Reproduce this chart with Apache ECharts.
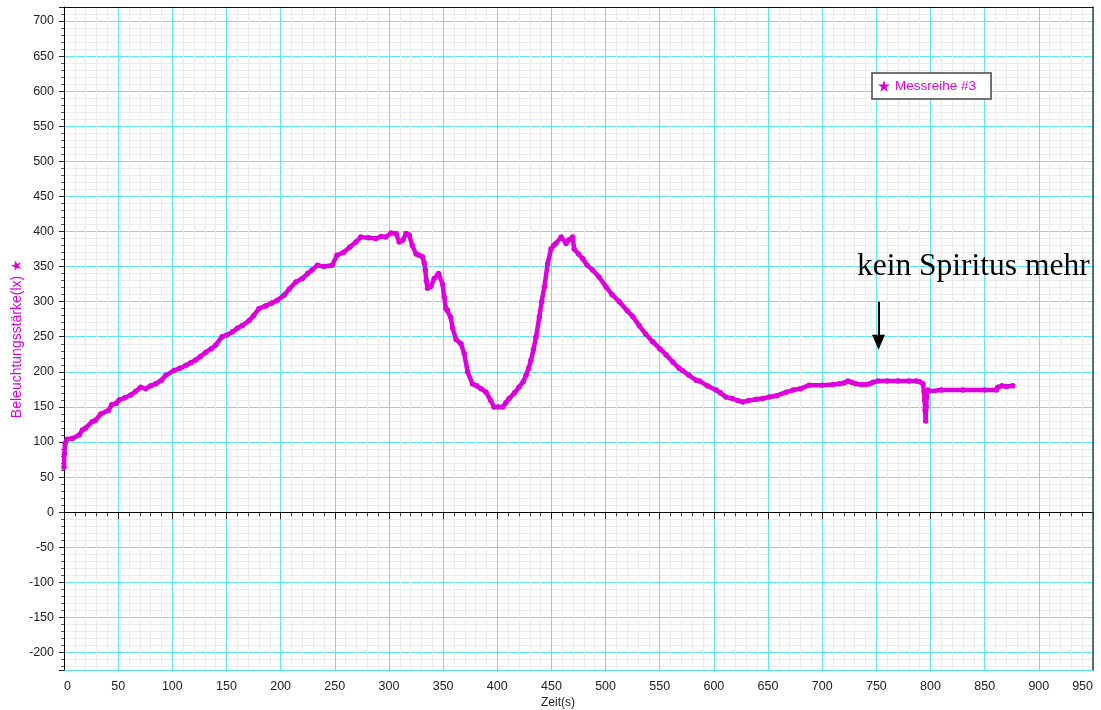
<!DOCTYPE html>
<html><head><meta charset="utf-8">
<script src="https://cdn.jsdelivr.net/npm/echarts@6/dist/echarts.min.js"></script>
<style>html,body{margin:0;padding:0;background:#fff}#c{width:1101px;height:710px}</style>
</head><body><div id="c"></div>
<script>
const seriesName = 'Messreihe #3';
const xAxisName = 'Zeit(s)';
const yAxisName = 'Beleuchtungsstärke(lx) ★';
const timeSec = [0,0.3,1,3,7.7,14,17,20,26,29,34,41,44,48,51,56,61.6,66,70.8,75.4,80,84.7,90,94,101.6,107,112.4,117,121.7,126,131,136,140,146,150,155.5,160,164.7,171,175,180,186,192,197,203,208,214,220,225,229,234,240,247.6,252,258,264,269.5,274,281,288,293,297,302,306.5,309.5,313,315.7,318.7,321.6,325,328,331,332.6,333.6,334.5,335.6,338.8,341.8,345.8,349.5,351,352.6,354,357,358.8,362,366.5,369.5,372.6,377,381,385,389.6,394,397,401,405,408,411,416,420,424,426.5,429,431,433.5,435.8,438.8,441,443.5,446.5,449.6,452,454,459,463.6,466,469.6,471,475,479,483,488,494,500.5,506,512.7,520,525,531,537,543.5,550,556,562,568,571,577,583.6,586.6,594,602,606,611,617,622,626.7,632,639,645,651,658,666.7,673,680,688,700,710,716,720,723.7,727,731,736,740.6,744,747,751.6,760,770,780,786.8,790,793,794,794.5,795,795.5,796,796.5,797,797.6,810,830,850,860.8,862,866,870,876];
const lux = [64,83,98,104,105,110,117,120,129,131,140,145,153,155,160,163,167,172,178,176,180,183,188,195,202,205,209,213,217,222,228,233,238,250,252,257,262,266,273,280,290,294,298,302,309,318,328,333,340,345,352,350,352,366,370,378,385,392,391,390,393,392,398,397,385,388,397,395,380,368,366,364,355,345,330,319,322,333,340,325,307,290,288,278,262,246,240,226,200,183,180,176,171,159,150,150,150,156,162,170,178,186,195,205,216,232,250,278,300,321,354,375,380,383,392,383,388,392,375,368,361,352,345,335,321,310,300,287,279,266,254,243,233,224,214,205,202,195,188,187,180,174,170,164,162,159,157,159,161,162,164,166,171,174,176,181,181,182,183,184,187,185,183,182,182,183,185,187,187,187,187,187,186,183,172,160,145,130,150,165,172,174,174,174,174,174,178,180,179,180];
const noteText = 'kein Spiritus mehr';
const notePos = [839.5, 350];
const arrowX = 752, arrowFromY = 300, arrowToY = 242;

const magenta = '#dd00dd';
const cyan = '#5ee6ee';
const minorGray = '#ebebeb';
const labelFont = "'Liberation Sans', Arial, sans-serif";
const starPath = 'path://M12,0.5L14.8,8.6L23.4,8.6L16.5,13.8L19,22L12,17.1L5,22L7.5,13.8L0.6,8.6L9.2,8.6Z';

const chart = echarts.init(document.getElementById('c'), null, {renderer: 'canvas'});
const yBase = {
  type: 'value', min: -225, max: 720, splitNumber: 19, minInterval: 50, maxInterval: 50
};
chart.setOption({
  animation: false,
  backgroundColor: '#fff',
  textStyle: {fontFamily: labelFont},
  grid: {left: 64, right: 8, top: 7, bottom: 40, show: false, containLabel: false, outerBoundsMode: 'none'},
  legend: {
    data: [{name: seriesName, icon: starPath}],
    left: 872, top: 73, orient: 'horizontal',
    itemWidth: 12, itemHeight: 12,
    padding: [6, 15, 6, 6],
    backgroundColor: '#fff', borderColor: '#444', borderWidth: 1.5,
    textStyle: {color: magenta, fontSize: 13.5, fontFamily: labelFont},
    selectedMode: false
  },
  xAxis: [{
    type: 'value', min: 0, max: 950, interval: 50,
    name: xAxisName, nameLocation: 'middle', nameGap: 27, nameMoveOverlap: false,
    nameTextStyle: {color: '#222', fontSize: 12, fontFamily: labelFont, padding: [0, 41, 0, 0]},
    axisLine: {show: true, lineStyle: {color: '#000', width: 1}},
    axisTick: {show: true, length: 7, lineStyle: {color: '#222'}},
    minorTick: {show: true, splitNumber: 5, length: 4, lineStyle: {color: '#444'}},
    axisLabel: {color: '#222', fontSize: 12.5, margin: 10, fontFamily: labelFont, alignMinLabel: 'left', alignMaxLabel: 'right'},
    splitLine: {show: true, lineStyle: {color: cyan, width: 1}},
    minorSplitLine: {show: true, lineStyle: {color: minorGray, width: 1}}
  }, {
    type: 'value', min: 0, max: 950, position: 'top', z: 5,
    axisLine: {show: true, onZero: false, lineStyle: {color: '#111', width: 1}},
    axisTick: {show: false}, axisLabel: {show: false}, splitLine: {show: false}
  }],
  yAxis: [Object.assign({}, yBase, {
    name: yAxisName, nameLocation: 'middle', nameGap: 40, nameMoveOverlap: false,
    nameTextStyle: {color: magenta, fontSize: 14, fontFamily: labelFont},
    axisLine: {show: true, onZero: false, lineStyle: {color: '#000', width: 1}},
    axisTick: {show: true, length: 5, lineStyle: {color: '#222'}},
    minorTick: {show: true, splitNumber: 5, length: 3, lineStyle: {color: '#555'}},
    axisLabel: {color: '#222', fontSize: 12.5, margin: 10, showMinLabel: false, showMaxLabel: false, fontFamily: labelFont},
    splitLine: {show: true, lineStyle: {color: cyan, width: 1}},
    minorSplitLine: {show: true, lineStyle: {color: minorGray, width: 1}}
  }), Object.assign({}, yBase, {
    position: 'right', z: 5,
    axisLine: {show: true, onZero: false, lineStyle: {color: '#1f4f4f', width: 1.5}},
    axisTick: {show: false}, axisLabel: {show: false}, splitLine: {show: false}
  })],
  series: [{
    name: seriesName, type: 'line', xAxisIndex: 0, yAxisIndex: 0,
    data: timeSec.map((t, i) => [t, lux[i]]),
    symbol: 'circle', symbolSize: 5.5, showSymbol: true, showAllSymbol: true,
    itemStyle: {color: magenta},
    lineStyle: {color: magenta, width: 4.5},
    markLine: {
      silent: true, symbol: ['none', 'none'], animation: false,
      label: {show: false},
      lineStyle: {color: '#000', width: 1, type: 'solid'},
      data: [{yAxis: 0}]
    }
  }, {
    name: 'annotation', type: 'line', data: [], xAxisIndex: 0, yAxisIndex: 0,
    markLine: {
      silent: true, animation: false,
      symbol: ['none', 'triangle'], symbolSize: [13, 15],
      label: {show: false},
      lineStyle: {color: '#000', width: 2, type: 'solid'},
      data: [[{coord: [arrowX, arrowFromY]}, {coord: [arrowX, arrowToY]}]]
    },
    markPoint: {
      silent: true, animation: false,
      symbol: 'rect', symbolSize: 1, itemStyle: {color: 'rgba(0,0,0,0)'},
      label: {show: true, position: 'inside', formatter: noteText, color: '#000', fontSize: 31.5, fontFamily: "'Liberation Serif', 'Times New Roman', serif"},
      data: [{coord: notePos}]
    }
  }]
});
</script></body></html>
